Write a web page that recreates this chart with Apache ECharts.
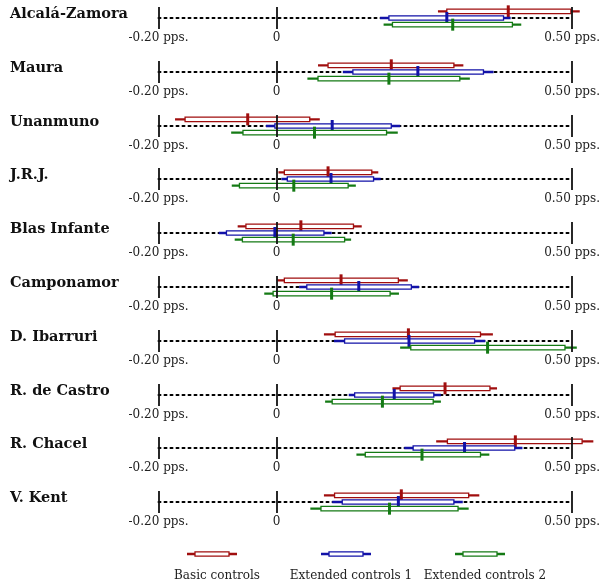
<!DOCTYPE html>
<html>
<head>
<meta charset="utf-8">
<script src="https://cdn.jsdelivr.net/npm/echarts@6/dist/echarts.min.js"></script>
<style>
  html, body { margin: 0; padding: 0; background: #fff; }
  #main { width: 603px; height: 586px; }
</style>
</head>
<body>
<div id="main"></div>
<script>
// rows (top to bottom)
var names = ['Alcalá-Zamora', 'Maura', 'Unanmuno', 'J.R.J.', 'Blas Infante',
    'Camponamor', 'D. Ibarruri', 'R. de Castro', 'R. Chacel', 'V. Kent'];
var seriesNames = ['Basic controls', 'Extended controls 1', 'Extended controls 2'];
var tickValues = [-0.2, 0, 0.5];
var tickLabels = ['-0.20 pps.', '0', '0.50 pps.'];

// point estimates
var basicEst = [0.392, 0.194, -0.049, 0.087, 0.041, 0.109, 0.223, 0.285, 0.404, 0.211];
var ext1Est  = [0.288, 0.239, 0.094, 0.092, -0.003, 0.139, 0.224, 0.199, 0.318, 0.206];
var ext2Est  = [0.298, 0.190, 0.064, 0.029, 0.028, 0.093, 0.357, 0.179, 0.246, 0.191];

// inner interval (box)
var basicBox = [[0.288, 0.498], [0.087, 0.300], [-0.155, 0.056], [0.013, 0.161], [-0.052, 0.130],
    [0.013, 0.206], [0.099, 0.345], [0.209, 0.361], [0.289, 0.517], [0.098, 0.325]];
var ext1Box  = [[0.190, 0.384], [0.129, 0.350], [-0.003, 0.194], [0.018, 0.164], [-0.085, 0.080],
    [0.051, 0.228], [0.115, 0.335], [0.132, 0.266], [0.231, 0.403], [0.111, 0.300]];
var ext2Box  = [[0.196, 0.399], [0.070, 0.310], [-0.057, 0.186], [-0.063, 0.121], [-0.058, 0.115],
    [-0.006, 0.192], [0.227, 0.488], [0.094, 0.265], [0.150, 0.345], [0.075, 0.307]];

// outer interval (whiskers)
var basicWhisker = [[0.273, 0.513], [0.070, 0.316], [-0.172, 0.073], [0.003, 0.172], [-0.066, 0.144],
    [0.001, 0.222], [0.080, 0.366], [0.196, 0.373], [0.270, 0.536], [0.080, 0.343]];
var ext1Whisker  = [[0.175, 0.396], [0.112, 0.367], [-0.018, 0.209], [0.008, 0.176], [-0.098, 0.093],
    [0.038, 0.241], [0.097, 0.353], [0.122, 0.278], [0.216, 0.416], [0.094, 0.315]];
var ext2Whisker  = [[0.181, 0.414], [0.052, 0.327], [-0.077, 0.205], [-0.076, 0.134], [-0.071, 0.126],
    [-0.021, 0.207], [0.209, 0.508], [0.082, 0.278], [0.135, 0.360], [0.057, 0.325]];

var colors = ['#a00e0e', '#1212a8', '#147a14'];
var ests = [basicEst, ext1Est, ext2Est];
var boxes = [basicBox, ext1Box, ext2Box];
var whiskers = [basicWhisker, ext1Whisker, ext2Whisker];

var rowTop = 18, rowStep = 53.8;
var serif = '"DejaVu Serif", "Liberation Serif", serif';

function renderItem(params, api) {
    var k = api.value(0);
    var yv = 1 - k;
    var c = colors[k];
    var p = api.coord([api.value(1), yv]);
    var b0 = api.coord([api.value(2), yv]);
    var b1 = api.coord([api.value(3), yv]);
    var w0 = api.coord([api.value(4), yv]);
    var w1 = api.coord([api.value(5), yv]);
    var y = p[1];
    return {
        type: 'group',
        children: [
            { type: 'line', shape: { x1: w0[0], y1: y, x2: w1[0], y2: y },
              style: { stroke: c, lineWidth: 2.4 } },
            { type: 'rect', shape: { x: b0[0], y: y - 2.2, width: b1[0] - b0[0], height: 4.4 },
              style: { fill: '#fff', stroke: c, lineWidth: 1.3 } },
            { type: 'rect', shape: { x: p[0] - 1.5, y: y - 6, width: 3, height: 12 },
              style: { fill: c } }
        ]
    };
}

var grids = [], xAxes = [], yAxes = [], series = [], graphics = [];
names.forEach(function (name, i) {
    var cy = Math.round(rowTop + rowStep * i);
    grids.push({ left: 158.5, right: 28, top: cy - 11, height: 22 });
    xAxes.push({
        gridIndex: i, type: 'value', min: -0.2, max: 0.5, interval: 0.1,
        axisLine: { show: true, onZero: true, lineStyle: { color: '#000', width: 2, type: [2, 4] } },
        axisTick: { show: false },
        splitLine: { show: false },
        axisLabel: {
            margin: 3, color: '#222', fontFamily: serif, fontSize: 12,
            formatter: function (v) {
                var idx = tickValues.findIndex(function (t) { return Math.abs(t - v) < 1e-6; });
                return idx >= 0 ? tickLabels[idx] : '';
            }
        }
    });
    yAxes.push({ gridIndex: i, type: 'value', min: -1.65, max: 1.65, show: false });
    var data = [0, 1, 2].map(function (k) {
        return [k, ests[k][i], boxes[k][i][0], boxes[k][i][1], whiskers[k][i][0], whiskers[k][i][1]];
    });
    series.push({
        type: 'custom', xAxisIndex: i, yAxisIndex: i, clip: false, silent: true,
        renderItem: renderItem, data: data,
        markLine: {
            silent: true, symbol: ['none', 'none'], label: { show: false },
            lineStyle: { color: '#111', type: 'solid', width: 1.8 },
            data: tickValues.map(function (t) { return { xAxis: t }; })
        }
    });
    graphics.push({
        type: 'text', x: 10, y: cy - 4,
        style: { text: name, fontFamily: serif, fontWeight: 'bold', fontSize: 14.5,
                 fill: '#111', verticalAlign: 'middle' }
    });
});

// legend below the panels
var legendX = [212, 346, 480];
seriesNames.forEach(function (n, k) {
    var x = legendX[k];
    graphics.push({ type: 'line', shape: { x1: x - 25, y1: 554, x2: x + 25, y2: 554 },
        style: { stroke: colors[k], lineWidth: 2.4 } });
    graphics.push({ type: 'rect', shape: { x: x - 17, y: 551.8, width: 34, height: 4.4 },
        style: { fill: '#fff', stroke: colors[k], lineWidth: 1.3 } });
    graphics.push({ type: 'text', x: x + 5, y: 576,
        style: { text: n, fontFamily: serif, fontSize: 12, fill: '#222',
                 align: 'center', verticalAlign: 'middle' } });
});

var myChart = echarts.init(document.getElementById('main'));
myChart.setOption({
    animation: false,
    grid: grids,
    xAxis: xAxes,
    yAxis: yAxes,
    series: series,
    graphic: graphics
});
</script>
</body>
</html>
